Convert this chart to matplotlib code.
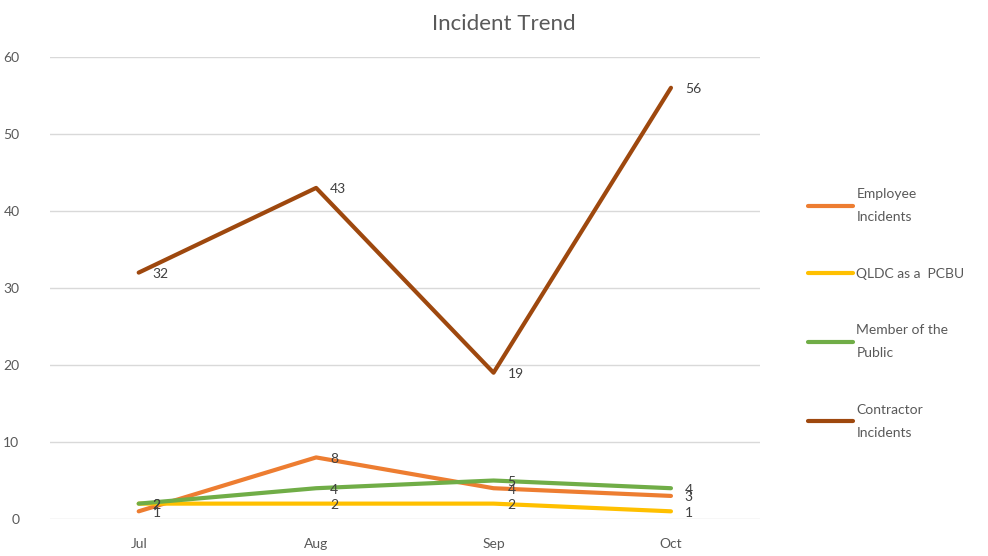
import matplotlib.pyplot as plt

months = ['Jul', 'Aug', 'Sep', 'Oct']
series_names = ['Employee\nIncidents', 'QLDC as a  PCBU', 'Member of the\nPublic', 'Contractor\nIncidents']
employee = [1, 8, 4, 3]
qldc_pcbu = [2, 2, 2, 1]
public = [2, 4, 5, 4]
contractor = [32, 43, 19, 56]
colors = ['#ED7D31', '#FFC000', '#70AD47', '#9E480E']

plt.rcParams['font.family'] = ['Lato', 'DejaVu Sans']

fig = plt.figure(figsize=(9.88, 5.56), dpi=100)
ax = fig.add_axes([0.0506, 0.0665, 0.7183, 0.831])

x = range(len(months))
for name, vals, c in zip(series_names, [employee, qldc_pcbu, public, contractor], colors):
    ax.plot(x, vals, color=c, linewidth=3, label=name, solid_capstyle='round')
    for i, v in enumerate(vals):
        ax.annotate(str(v), (i, v), xytext=(10, -1), textcoords='offset points',
                    ha='left', va='center', fontsize=10, color='#404040')

ax.set_xlim(-0.5, len(months) - 0.5)
ax.set_ylim(0, 60)
ax.set_yticks(range(0, 61, 10))
ax.set_xticks(list(x))
ax.set_xticklabels(months)
ax.grid(axis='y', color='#D9D9D9', linewidth=1)
ax.set_axisbelow(True)
for s in ax.spines.values():
    s.set_visible(False)
ax.tick_params(length=0, colors='#595959', labelsize=10)
ax.tick_params(axis='x', pad=14)
ax.tick_params(axis='y', pad=22)

fig.suptitle('Incident Trend', x=0.51, y=0.975, fontsize=16, color='#595959')

leg = ax.legend(loc='center left', bbox_to_anchor=(1.05, 0.445), frameon=False,
                fontsize=10, labelcolor='#595959', labelspacing=3.2,
                handlelength=3.3, handletextpad=0.2)
for t in leg.get_texts():
    t.set_linespacing(2.1)

plt.savefig('out.png', dpi=100)
plt.close()
